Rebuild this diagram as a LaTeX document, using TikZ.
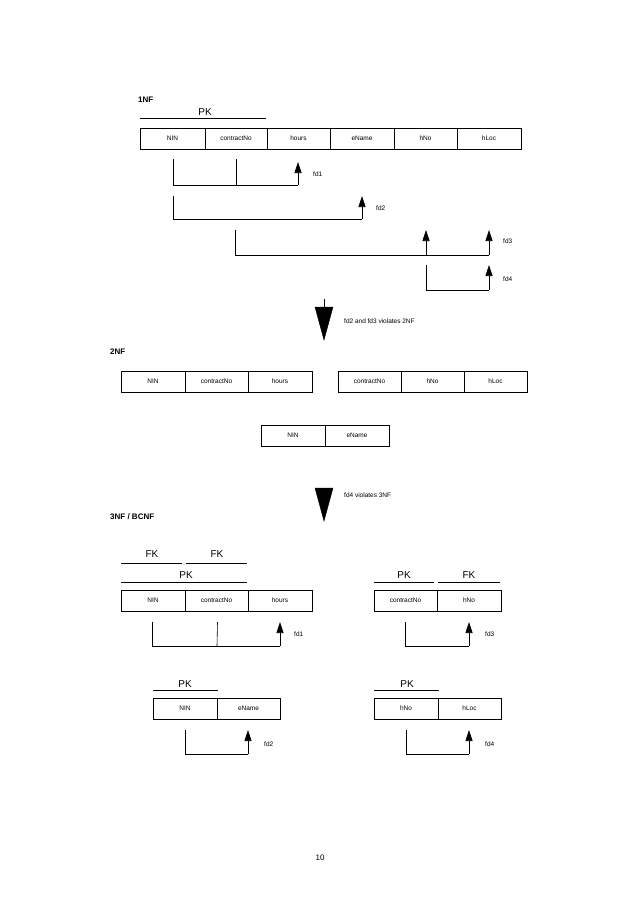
\documentclass[tikz,border=0pt]{standalone}
\usepackage{fontspec}
\setmainfont{Liberation Sans}
\usetikzlibrary{arrows.meta}
\begin{document}
\begin{tikzpicture}[x=1pt,y=-1pt,
  cell/.style={draw,line width=0.6pt,inner sep=0pt,font=\fontsize{6.5}{7}\selectfont,anchor=center},
  lbl/.style={font=\fontsize{6.5}{7}\selectfont,anchor=west,inner sep=0pt},
  key/.style={font=\fontsize{10}{11}\selectfont,inner sep=0pt},
  head/.style={font=\bfseries\fontsize{8}{9}\selectfont,anchor=west,inner sep=0pt},
  fdl/.style={line width=0.6pt},
  fda/.style={line width=0.6pt,-{Triangle[width=7pt,length=11pt]}},
  big/.style={fill=black,draw=black}]
\useasboundingbox (0,0) rectangle (638,903);
% cell helper via rectangles
\newcommand{\cellbox}[6]{\node[cell,minimum width=#3-#2,minimum height=#5-#4] (#1) at ({(#2+#3)/2},{(#4+#5)/2}) {#6};}
% 1NF
\node[head] (h1) at (138,100) {1NF};
\draw[fdl] (140,118) -- (266,118);
\node[key] (pk1) at (205,112) {PK};
\cellbox{a1}{140}{205}{128}{149}{NIN}
\cellbox{a2}{205}{267}{128}{149}{contractNo}
\cellbox{a3}{267}{330}{128}{149}{hours}
\cellbox{a4}{330}{394}{128}{149}{eName}
\cellbox{a5}{394}{457}{128}{149}{hNo}
\cellbox{a6}{457}{521}{128}{149}{hLoc}
\draw[fdl] (173,159) -- (173,185) -- (298,185);
\draw[fdl] (236,159) -- (236,185);
\draw[fda] (298,185) -- (298,162);
\node[lbl] (f1) at (313,174) {fd1};
\draw[fdl] (173,196) -- (173,219) -- (362,219);
\draw[fda] (362,219) -- (362,196);
\node[lbl] (f2) at (376,208) {fd2};
\draw[fdl] (235,230) -- (235,255) -- (489,255);
\draw[fda] (426,255) -- (426,230);
\draw[fda] (489,255) -- (489,230);
\node[lbl] (f3) at (503,241) {fd3};
\draw[fdl] (426,265) -- (426,290) -- (489,290);
\draw[fda] (489,290) -- (489,265);
\node[lbl] (f4) at (503,279) {fd4};
% big arrow 1
\draw[fdl] (324,299) -- (324,307);
\fill[big] (315,307) -- (333,307) -- (324,340) -- cycle;
\node[lbl] (v1) at (344,321) {fd2 and fd3 violates 2NF};
% 2NF
\node[head] (h2) at (110,352) {2NF};
\cellbox{b1}{121}{185}{371}{392}{NIN}
\cellbox{b2}{185}{248}{371}{392}{contractNo}
\cellbox{b3}{248}{312}{371}{392}{hours}
\cellbox{c1}{338}{401}{371}{392}{contractNo}
\cellbox{c2}{401}{464}{371}{392}{hNo}
\cellbox{c3}{464}{527}{371}{392}{hLoc}
\cellbox{d1}{261}{325}{425}{446}{NIN}
\cellbox{d2}{325}{389}{425}{446}{eName}
% big arrow 2
\fill[big] (315,488) -- (333,488) -- (324,521) -- cycle;
\node[lbl] (v2) at (344,495) {fd4 violates 3NF};
% 3NF
\node[head] (h3) at (110,517) {3NF / BCNF};
\draw[fdl] (121,563) -- (182,563);
\draw[fdl] (186,563) -- (247,563);
\node[key] (fk1) at (152,554) {FK};
\node[key] (fk2) at (217,554) {FK};
\draw[fdl] (121,582) -- (247,582);
\node[key] (pk2) at (186,575) {PK};
\cellbox{e1}{121}{185}{590}{611}{NIN}
\cellbox{e2}{185}{248}{590}{611}{contractNo}
\cellbox{e3}{248}{312}{590}{611}{hours}
\draw[fdl] (152,622) -- (152,646) -- (280,646);
\draw[fdl] (217.5,622) -- (217,646);
\draw[fda] (280,646) -- (280,622);
\node[lbl] (g1) at (294,634) {fd1};
\draw[fdl] (374,582) -- (434,582);
\draw[fdl] (438,582) -- (500,582);
\node[key] (pk3) at (404,575) {PK};
\node[key] (fk3) at (469,575) {FK};
\cellbox{k1}{374}{437}{590}{611}{contractNo}
\cellbox{k2}{437}{501}{590}{611}{hNo}
\draw[fdl] (405,622) -- (405,646) -- (469,646);
\draw[fda] (469,646) -- (469,622);
\node[lbl] (g3) at (485,634) {fd3};
\draw[fdl] (153,690) -- (218,690);
\node[key] (pk4) at (185,684) {PK};
\cellbox{m1}{153}{217}{698}{719}{NIN}
\cellbox{m2}{217}{280}{698}{719}{eName}
\draw[fdl] (185,730) -- (185,754) -- (248,754);
\draw[fda] (248,754) -- (248,730);
\node[lbl] (g2) at (264,744) {fd2};
\draw[fdl] (374,690) -- (439,690);
\node[key] (pk5) at (407,684) {PK};
\cellbox{n1}{374}{438}{698}{719}{hNo}
\cellbox{n2}{438}{501}{698}{719}{hLoc}
\draw[fdl] (406,730) -- (406,754) -- (469,754);
\draw[fda] (469,754) -- (469,730);
\node[lbl] (g4) at (485,744) {fd4};
\node[font=\rmfamily\fontsize{8}{9}\selectfont] (pg) at (320,858) {10};
\end{tikzpicture}
\end{document}
